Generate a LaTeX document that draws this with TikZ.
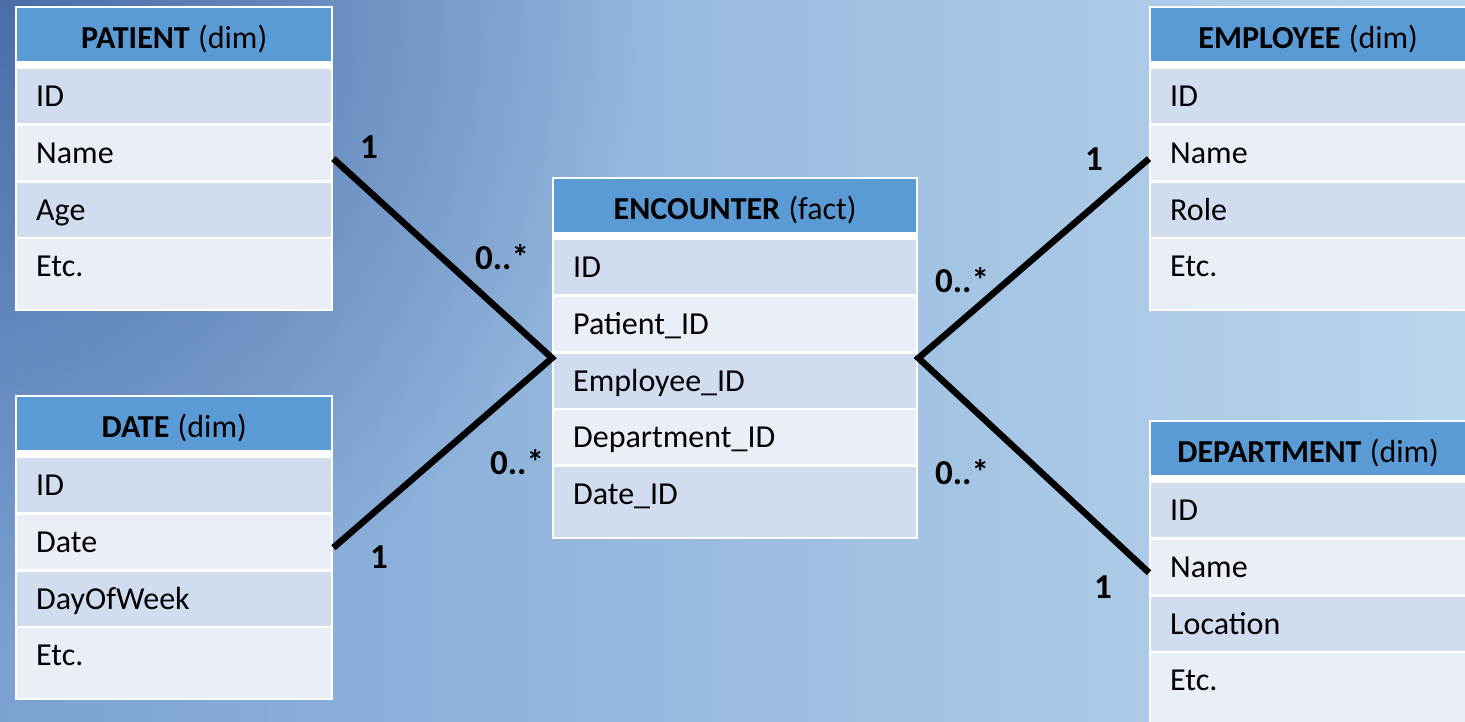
\documentclass[tikz,border=0pt]{standalone}
\usepackage{fontspec}
\setmainfont{Carlito}
\usetikzlibrary{fadings}
\definecolor{hdr}{HTML}{5B9BD5}
\definecolor{rowA}{HTML}{D1DDEF}
\definecolor{rowB}{HTML}{E9EEF7}
\definecolor{bgL}{HTML}{7BA2D2}
\definecolor{bgM}{HTML}{A2C3E6}
\definecolor{bgR}{HTML}{BAD6EE}
\definecolor{bgD}{HTML}{4A6EA8}
\tikzfading[name=tlfade, inner color=transparent!0, outer color=transparent!100]
\tikzset{
  tframe/.style={fill=white, inner sep=0pt, anchor=north west},
  thead/.style={fill=hdr, anchor=north west, inner xsep=19pt, inner ysep=0pt,
    text height=40pt, text depth=13pt, align=center},
  trow/.style={anchor=north west, inner xsep=19pt, inner ysep=0pt,
    text height=37.5pt, align=left},
  conn/.style={line width=6.5pt, draw=black, line join=miter},
  card/.style={font=\bfseries\fontsize{35}{40}\selectfont, inner sep=0pt}
}
\newcommand\ertable[8]{%
  \pgfmathsetmacro\tabH{305+56.7*(#7-4)}%
  \pgfmathsetmacro\txtW{#4-4-38}%
  \node[tframe, minimum width=#4pt, minimum height=\tabH pt] (#1) at (#2,#3) {};
  \node[thead, text width=\txtW pt] (#1-h) at (#2+2,#3+2) {\textbf{#5}\hspace{0.26em}#6};
  \foreach \r [count=\i] in {#8} {
    \pgfmathsetmacro\rowY{#3+63+56.7*(\i-1)}
    \ifnum\i=#7 \def\dep{32.5pt}\else\def\dep{16.5pt}\fi
    \ifodd\i \def\rc{rowA}\else\def\rc{rowB}\fi
    \node[trow, fill=\rc, text depth=\dep, text width=\txtW pt] (#1-\i) at (#2+2,\rowY) {\r};
  }
}
\begin{document}
\begin{tikzpicture}[x=1pt, y=-1pt, font=\fontsize{32}{38}\selectfont]
\useasboundingbox (0,0) rectangle (1465,721);
\clip (0,0) rectangle (1465,721);
% background
\shade[left color=bgL, middle color=bgM, right color=bgR] (0,0) rectangle (1465,721);
\fill[bgD, path fading=tlfade] (0,0) circle (650pt);
% tables
\ertable{patient}{15}{6}{318}{PATIENT}{(dim)}{4}{ID,Name,Age,Etc.}
\ertable{date}{15}{395}{318}{DATE}{(dim)}{4}{ID,Date,DayOfWeek,Etc.}
\ertable{enc}{552}{177}{366}{ENCOUNTER}{(fact)}{5}{ID,Patient\_ID,Employee\_ID,Department\_ID,Date\_ID}
\ertable{employee}{1149}{6}{318}{EMPLOYEE}{(dim)}{4}{ID,Name,Role,Etc.}
\ertable{department}{1149}{420}{318}{DEPARTMENT}{(dim)}{4}{ID,Name,Location,Etc.}
% connectors
\draw[conn] (patient.east) -- (enc.west) -- (date.east);
\draw[conn] (employee.west) -- (enc.east) -- (department.west);
% cardinalities
\node[card] (cP1) at (369,147) {1};
\node[card] (cPm) at (502,257) {0..*};
\node[card] (cDm) at (517,462) {0..*};
\node[card] (cD1) at (379,557) {1};
\node[card] (cEm) at (962,280) {0..*};
\node[card] (cE1) at (1094,159) {1};
\node[card] (cTm) at (962,472) {0..*};
\node[card] (cT1) at (1103,587) {1};
\end{tikzpicture}
\end{document}
